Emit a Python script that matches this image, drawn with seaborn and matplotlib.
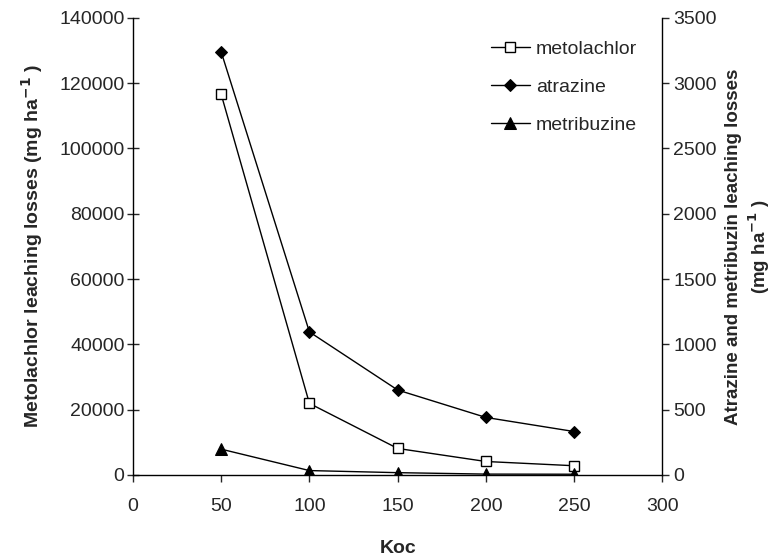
import pandas as pd
import matplotlib.pyplot as plt
import seaborn as sns

# Koc values and leaching losses
koc = [50, 100, 150, 200, 250]
metolachlor = [116600, 21900, 8100, 4100, 2800]
atrazine = [3240, 1095, 650, 440, 332]
metribuzine = [197, 33, 17, 6, 5]

df = pd.DataFrame({"Koc": koc, "metolachlor": metolachlor,
                   "atrazine": atrazine, "metribuzine": metribuzine})

sns.set_style("white")
plt.rcParams["font.family"] = ["Liberation Sans", "DejaVu Sans"]

fs = 14
fig = plt.figure(figsize=(7.82, 5.6), dpi=100)
ax = fig.add_axes([0.170, 0.152, 0.677, 0.816])
ax2 = ax.twinx()

sns.lineplot(data=df, x="Koc", y="metolachlor", ax=ax, color="black", lw=1,
             marker="s", markersize=7, markerfacecolor="white",
             markeredgecolor="black", markeredgewidth=1, label="metolachlor",
             legend=False)
sns.lineplot(data=df, x="Koc", y="atrazine", ax=ax2, color="black", lw=1,
             marker="D", markersize=6, markerfacecolor="black",
             markeredgecolor="black", label="atrazine", legend=False)
sns.lineplot(data=df, x="Koc", y="metribuzine", ax=ax2, color="black", lw=1,
             marker="^", markersize=8, markerfacecolor="black",
             markeredgecolor="black", label="metribuzine", legend=False)

ax.set_xlim(0, 300)
ax.set_xticks(range(0, 301, 50))
ax.set_ylim(0, 140000)
ax.set_yticks(range(0, 140001, 20000))
ax2.set_ylim(0, 3500)
ax2.set_yticks(range(0, 3501, 500))

for a in (ax, ax2):
    for s in a.spines.values():
        s.set_visible(False)
ax.spines["left"].set_visible(True)
ax.spines["bottom"].set_visible(True)
ax2.spines["right"].set_visible(True)
for s in (ax.spines["left"], ax.spines["bottom"], ax2.spines["right"]):
    s.set_color("black")
    s.set_linewidth(1)

ax.tick_params(axis="y", direction="inout", length=8, width=1, labelsize=fs,
               left=True, pad=2)
ax.tick_params(axis="x", direction="out", length=5, width=1, labelsize=fs,
               bottom=True, pad=12)
ax2.tick_params(axis="y", direction="out", length=5, width=1, labelsize=fs,
                right=True, pad=3)

ax.set_xlabel("Koc", fontsize=fs, fontweight="bold", labelpad=18)
ax.set_ylabel("Metolachlor leaching losses (mg ha$^{\\mathbf{-1}}$ )",
              fontsize=fs, fontweight="bold", labelpad=10)
ax2.set_ylabel("Atrazine and metribuzin leaching losses\n(mg ha$^{\\mathbf{-1}}$ )",
               fontsize=13.5, fontweight="bold", rotation=90, labelpad=6,
               linespacing=1.2)

h1, l1 = ax.get_legend_handles_labels()
h2, l2 = ax2.get_legend_handles_labels()
ax2.legend(h1 + h2, l1 + l2, loc="upper right", bbox_to_anchor=(0.985, 0.99),
           frameon=False, fontsize=fs, handlelength=2.0, labelspacing=1.05,
           handletextpad=0.3)

fig.savefig("out.png", dpi=100)
